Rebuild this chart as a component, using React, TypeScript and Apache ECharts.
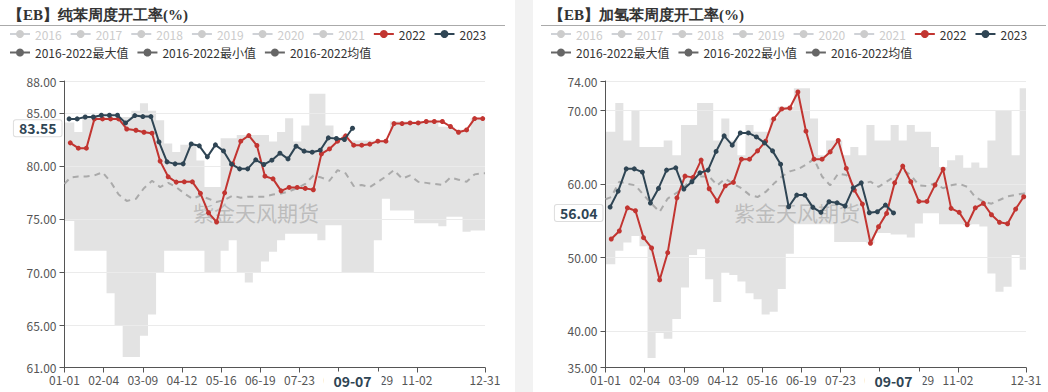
import React, { useEffect, useRef } from 'react';
import * as echarts from 'echarts';

// ---- axis categories: every day of a (leap) calendar year as MM-DD ----
const MONTH_LENGTHS = [31, 29, 31, 30, 31, 30, 31, 31, 30, 31, 30, 31];
const dayCategories: string[] = [];
MONTH_LENGTHS.forEach((len, m) => {
  for (let d = 1; d <= len; d++) {
    dayCategories.push(`${String(m + 1).padStart(2, '0')}-${String(d).padStart(2, '0')}`);
  }
});

const tickLabels = ['01-01', '02-04', '03-09', '04-12', '05-16', '06-19', '07-23', '08-26', '09-29', '11-02', '12-31'];

const dates2022 = [
  '01-06', '01-13', '01-20', '01-27', '02-03', '02-10', '02-17', '02-24',
  '03-03', '03-10', '03-17', '03-24', '03-31', '04-07', '04-14', '04-21', '04-28',
  '05-05', '05-12', '05-19', '05-26', '06-02', '06-09', '06-16', '06-23', '06-30',
  '07-07', '07-14', '07-21', '07-28', '08-04', '08-11', '08-18', '08-25',
  '09-01', '09-08', '09-15', '09-22', '09-29', '10-06', '10-13', '10-20', '10-27',
  '11-03', '11-10', '11-17', '11-24', '12-01', '12-08', '12-15', '12-22', '12-29',
];
const dates2023 = [
  '01-05', '01-12', '01-19', '01-26', '02-02', '02-09', '02-16', '02-23',
  '03-02', '03-09', '03-16', '03-23', '03-30', '04-06', '04-13', '04-20', '04-27',
  '05-04', '05-11', '05-18', '05-25', '06-01', '06-08', '06-15', '06-22', '06-29',
  '07-06', '07-13', '07-20', '07-27', '08-03', '08-10', '08-17', '08-24', '08-31', '09-07',
];
const bandDates = ['01-01', ...dates2022, '12-31'];

const hiddenYears = ['2016', '2017', '2018', '2019', '2020', '2021'];
const shownYears = ['2022', '2023'];
const MAX_NAME = '2016-2022最大值';
const MIN_NAME = '2016-2022最小值';
const MEAN_NAME = '2016-2022均值';

// ---- 纯苯 ----
const pure2022 = [
  82.17, 81.67, 81.67, 84.43, 84.43, 84.43, 84.43, 83.48, 83.36, 83.17,
  83.08, 80.45, 78.97, 78.47, 78.5, 78.5, 77.41, 75.58, 74.71, 77.46,
  80.19, 82.33, 82.86, 81.92, 79.03, 78.78, 77.65, 77.97, 77.97, 77.88,
  77.75, 81.13, 81.6, 82.33, 82.83, 81.95, 81.95, 82.05, 82.33, 82.33,
  83.99, 83.99, 84.05, 84.05, 84.18, 84.18, 84.18, 83.71, 83.17, 83.39,
  84.46, 84.46,
];
const pure2023 = [
  84.43, 84.43, 84.61, 84.61, 84.77, 84.77, 84.77, 84.05, 84.74, 84.65,
  84.65, 82.26, 80.38, 80.19, 80.19, 82.07, 81.89, 80.85, 81.98, 81.41,
  80.16, 79.72, 79.72, 80.57, 80.13, 80.54, 81.2, 80.66, 81.86, 81.39,
  81.29, 81.48, 82.64, 82.58, 82.49, 83.55,
];
const pureMax = [
  84.1, 84.1, 83.2, 84.6, 84.6, 84.6, 84.6, 84.6, 84.6, 85.2,
  85.9, 85.2, 84.3, 82.1, 81.3, 82.0, 82.0, 80.5, 78.0, 78.0,
  82.6, 82.6, 82.9, 82.9, 82.9, 82.9, 82.3, 83.2, 84.5, 82.3,
  83.8, 86.8, 86.8, 83.8, 82.6, 82.9, 82.4, 82.4, 82.4, 82.4,
  82.4, 84.2, 84.2, 84.2, 84.2, 84.2, 84.2, 83.7, 83.7, 83.4,
  83.4, 84.5, 84.5, 84.5,
];
const pureMin = [
  74.8, 74.8, 72.0, 72.0, 72.0, 72.0, 68.0, 65.0, 62.0, 62.0,
  64.0, 66.0, 70.0, 72.0, 72.0, 72.0, 72.0, 72.0, 70.0, 70.0,
  72.0, 73.0, 70.0, 69.0, 70.0, 71.0, 71.9, 73.0, 73.6, 73.6,
  73.6, 73.6, 73.0, 74.4, 74.4, 69.9, 69.9, 69.9, 69.9, 73.0,
  76.9, 75.8, 75.8, 75.8, 74.6, 74.6, 74.6, 74.3, 75.2, 75.2,
  73.8, 73.9, 73.9, 73.9,
];
const pureMean = [
  78.3, 78.9, 79.0, 79.0, 79.1, 79.4, 78.5, 77.3, 76.7, 76.9,
  77.9, 78.6, 78.0, 78.4, 78.0, 77.4, 76.9, 77.2, 76.9, 76.6,
  76.8, 77.2, 77.0, 77.1, 77.1, 77.1, 77.3, 77.4, 77.6, 77.9,
  78.3, 79.1, 78.9, 78.6, 79.6, 79.3, 78.1, 78.2, 78.0, 78.5,
  79.0, 79.6, 78.8, 79.1, 78.5, 78.4, 78.3, 78.2, 78.9, 78.7,
  78.5, 79.2, 79.3, 79.3,
];

// ---- 加氢苯 ----
const hydro2022 = [
  52.49, 53.58, 56.74, 56.34, 52.67, 51.27, 46.92, 50.63, 58.1, 61.05,
  60.88, 63.23, 59.33, 57.65, 59.73, 60.2, 63.36, 63.36, 64.49, 65.8,
  68.84, 70.2, 70.33, 72.5, 67.17, 63.36, 63.36, 64.35, 65.9, 62.1,
  59.15, 57.25, 51.91, 54.16, 55.98, 60.14, 62.41, 60.28, 57.61, 57.61,
  59.83, 62.0, 56.66, 56.12, 54.43, 56.74, 57.34, 55.79, 54.76, 54.57,
  56.57, 58.24,
];
const hydro2023 = [
  56.84, 59.01, 62.04, 62.04, 61.6, 57.38, 59.38, 61.87, 62.18, 59.29,
  60.28, 61.5, 61.87, 64.41, 66.53, 65.27, 66.93, 66.93, 66.39, 65.58,
  64.49, 62.68, 56.88, 58.47, 58.47, 56.8, 56.12, 57.56, 57.42, 56.98,
  59.46, 60.14, 56.07, 56.2, 57.11, 56.04,
];
const hydroMax = [
  67.1, 67.1, 71.0, 65.9, 70.0, 65.0, 65.0, 65.0, 65.9, 63.9,
  68.0, 68.0, 71.0, 71.0, 65.9, 68.9, 65.9, 63.9, 68.0, 67.1,
  67.1, 68.9, 70.5, 70.5, 73.0, 73.0, 68.9, 63.9, 65.9, 65.9,
  63.9, 65.0, 63.9, 68.0, 65.9, 65.9, 68.0, 65.9, 68.0, 67.1,
  67.1, 65.0, 62.3, 63.2, 63.9, 62.2, 62.9, 62.2, 65.9, 70.0,
  70.0, 63.9, 73.0, 73.0,
];
const hydroMin = [
  49.05, 49.05, 50.9, 52.0, 52.9, 51.5, 36.3, 39.7, 38.9, 41.6,
  45.9, 50.3, 51.1, 47.0, 43.9, 47.9, 47.6, 46.7, 45.1, 44.3,
  42.2, 42.6, 45.7, 50.5, 54.5, 54.5, 54.5, 54.5, 54.5, 52.1,
  52.1, 52.1, 52.1, 51.9, 53.3, 53.3, 53.1, 53.1, 52.7, 54.6,
  56.0, 56.0, 54.5, 54.5, 54.5, 54.4, 54.5, 54.2, 47.8, 45.3,
  46.0, 50.3, 48.3, 48.3,
];
const hydroMean = [
  57.9, 58.2, 60.3, 60.0, 59.8, 58.5, 57.3, 56.2, 58.0, 58.8,
  59.7, 60.9, 61.0, 61.0, 59.8, 60.7, 60.0, 59.4, 58.5, 58.2,
  58.9, 60.0, 61.0, 61.7, 62.0, 62.6, 63.4, 61.0, 59.8, 61.4,
  61.2, 59.6, 60.0, 60.3, 59.6, 60.3, 61.0, 61.9, 61.2, 59.8,
  59.7, 60.1, 59.4, 59.8, 60.0, 59.6, 58.2, 57.6, 57.3, 57.8,
  58.3, 58.5, 58.7, 58.8,
];

type PanelData = {
  title: string;
  yMin: number;
  yMax: number;
  v2022: number[];
  v2023: number[];
  max: number[];
  min: number[];
  mean: number[];
};

const pureBenzene: PanelData = {
  title: '【EB】纯苯周度开工率(%)', yMin: 61, yMax: 88,
  v2022: pure2022, v2023: pure2023, max: pureMax, min: pureMin, mean: pureMean,
};
const hydroBenzene: PanelData = {
  title: '【EB】加氢苯周度开工率(%)', yMin: 35, yMax: 74,
  v2022: hydro2022, v2023: hydro2023, max: hydroMax, min: hydroMin, mean: hydroMean,
};

const RED = '#c23531';
const NAVY = '#2f4554';
const BAND = '#e3e3e3';
const STAT_ICON = '#666';
const FONT = "'Noto Sans CJK SC', 'Noto Sans', sans-serif";

function buildOption(p: PanelData): any {
  const toPairs = (dates: string[], vals: number[]) => dates.map((d, i) => [d, vals[i]]);
  const span = p.max.map((v, i) => +(v - p.min[i]).toFixed(2));
  const tickFn = (_i: number, v: string) => tickLabels.includes(v);
  const lastDate = dates2023[dates2023.length - 1];
  const lastValue = p.v2023[p.v2023.length - 1];
  const statLegend = (name: string) => ({
    name,
    itemStyle: { color: STAT_ICON, opacity: 1 },
    lineStyle: { color: STAT_ICON, width: 2, type: 'solid', opacity: 1 },
  });
  const selected: Record<string, boolean> = {};
  hiddenYears.forEach((y) => (selected[y] = false));

  const series: any[] = hiddenYears.map((y) => ({
    name: y, type: 'line', symbol: 'circle', data: [], lineStyle: { width: 2 },
  }));
  series.push(
    {
      name: MIN_NAME, type: 'line', stack: 'band', step: 'middle', symbol: 'none',
      data: toPairs(bandDates, p.min), z: -1, silent: true,
      itemStyle: { color: STAT_ICON }, lineStyle: { width: 0, opacity: 0 },
    },
    {
      name: MAX_NAME, type: 'line', stack: 'band', step: 'middle', symbol: 'none',
      data: toPairs(bandDates, span), z: -1, silent: true,
      itemStyle: { color: STAT_ICON }, lineStyle: { width: 0, opacity: 0 },
      areaStyle: { color: BAND, opacity: 1 },
    },
    {
      name: MEAN_NAME, type: 'line', symbol: 'none', data: toPairs(bandDates, p.mean), z: 2,
      itemStyle: { color: STAT_ICON }, lineStyle: { color: '#aaa', width: 2, type: [6, 5] },
    },
    {
      name: '2022', type: 'line', symbol: 'circle', symbolSize: 5, showAllSymbol: true,
      data: toPairs(dates2022, p.v2022), z: 3,
      itemStyle: { color: RED }, lineStyle: { color: RED, width: 2 },
    },
    {
      name: '2023', type: 'line', symbol: 'circle', symbolSize: 5, showAllSymbol: true,
      data: toPairs(dates2023, p.v2023), z: 4,
      itemStyle: { color: NAVY }, lineStyle: { color: NAVY, width: 2 },
    },
  );

  const legendCommon = {
    left: 4, itemWidth: 20, itemHeight: 10, itemGap: 8, width: 505,
    textStyle: { fontSize: 12, color: '#333', fontFamily: FONT },
    inactiveColor: '#ccc', inactiveBorderColor: '#ccc',
  };

  return {
    animation: false,
    textStyle: { fontFamily: FONT },
    grid: { left: 64.5, right: 30, top: 81, bottom: 24.5 },
    legend: [
      { ...legendCommon, top: 23, data: [...hiddenYears, ...shownYears], selected },
      { ...legendCommon, top: 41.5, data: [statLegend(MAX_NAME), statLegend(MIN_NAME), statLegend(MEAN_NAME)] },
    ],
    graphic: [
      {
        type: 'text', left: 8, top: 7,
        style: { text: p.title, fontSize: 15, fontWeight: 'bold', fill: '#333', fontFamily: 'serif' },
      },
      {
        type: 'line', shape: { x1: 0, y1: 25.5, x2: 505, y2: 25.5 },
        style: { stroke: '#aaa', lineWidth: 1 },
      },
      {
        type: 'text', x: 256, y: 212, z: 1,
        style: {
          text: '紫金天风期货', fontSize: 21, fill: 'rgba(150,150,150,0.5)',
          align: 'center', verticalAlign: 'middle', fontFamily: FONT,
        },
      },
    ],
    xAxis: {
      type: 'category', data: dayCategories, boundaryGap: false,
      axisLine: { lineStyle: { color: '#555' } },
      axisTick: { interval: tickFn, length: 5, lineStyle: { color: '#555' } },
      axisLabel: { interval: tickFn, color: '#555', fontSize: 12, margin: 6, fontFamily: FONT },
      splitLine: { show: false },
      axisPointer: {
        show: true, type: 'none', status: 'show', snap: false, triggerTooltip: false,
        value: dayCategories.indexOf(lastDate),
        label: {
          show: true, color: NAVY, fontWeight: 'bold', fontSize: 14, fontFamily: FONT,
          backgroundColor: '#fff', padding: [2, 10], margin: 4, borderRadius: 0,
        },
      },
    },
    yAxis: {
      type: 'value', min: p.yMin, max: p.yMax,
      axisLine: { show: true, lineStyle: { color: '#555' } },
      axisTick: { show: true, length: 5, lineStyle: { color: '#555' } },
      axisLabel: { color: '#555', fontSize: 12, fontFamily: FONT, formatter: (v: number) => v.toFixed(2) },
      splitLine: { lineStyle: { color: '#ebebeb' } },
      axisPointer: {
        show: true, type: 'none', status: 'show', snap: false, triggerTooltip: false,
        value: lastValue,
        label: {
          show: true, color: NAVY, fontWeight: 'bold', fontSize: 14, fontFamily: FONT,
          backgroundColor: '#fff', borderColor: '#ddd', borderWidth: 1, padding: [1, 5],
          margin: 3, borderRadius: 2,
          formatter: (q: any) => Number(q.value).toFixed(2),
        },
      },
    },
    series,
  };
}

function ChartPanel({ data, left }: { data: PanelData; left: number }) {
  const ref = useRef<HTMLDivElement>(null);
  useEffect(() => {
    const chart = echarts.init(ref.current!, undefined, { renderer: 'svg' });
    chart.setOption(buildOption(data));
    return () => chart.dispose();
  }, [data]);
  return <div ref={ref} style={{ position: 'absolute', top: 0, left, width: 515, height: 392 }} />;
}

export default function App() {
  return (
    <div
      style={{
        position: 'fixed', left: 0, top: 0, width: 1048, height: 392,
        background: '#f2f2f2', overflow: 'hidden',
      }}
    >
      <div style={{ position: 'absolute', left: 0, top: 0, width: 515, height: 392, background: '#fff' }} />
      <div style={{ position: 'absolute', left: 533, top: 0, width: 515, height: 392, background: '#fff' }} />
      <ChartPanel data={pureBenzene} left={0} />
      <ChartPanel data={hydroBenzene} left={541} />
    </div>
  );
}
